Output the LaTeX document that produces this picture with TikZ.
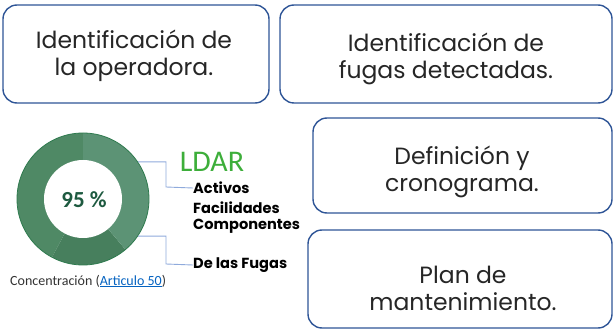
\documentclass[tikz,border=0pt]{standalone}
\usepackage{fontspec}
\newfontfamily\boxfont{Poppins}
\newfontfamily\calfont{Carlito}
\definecolor{boxblue}{HTML}{2F5597}
\definecolor{ringA}{HTML}{4F8965}
\definecolor{ringB}{HTML}{5C9375}
\definecolor{ringC}{HTML}{477F5D}
\definecolor{ringedge}{HTML}{2E7A4E}
\definecolor{pctgreen}{HTML}{1E5A40}
\definecolor{ldargreen}{HTML}{3DAE3A}
\definecolor{linkblue}{HTML}{0563C1}
\definecolor{connblue}{HTML}{8FAADC}
\tikzset{
  stepbox/.style={draw=boxblue, line width=1.4pt, rounded corners=14pt, fill=white},
  boxtext/.style={font=\boxfont\fontsize{23.5}{27}\selectfont, align=center, text=black!85, inner sep=0pt},
  labtext/.style={font=\boxfont\bfseries\fontsize{14.6}{16}\selectfont, anchor=west, inner sep=0pt},
  conn/.style={draw=connblue, line width=0.9pt},
}
\begin{document}
\begin{tikzpicture}[x=1pt,y=-1pt]
\useasboundingbox (0,0) rectangle (616,331);
\fill[white] (0,0) rectangle (616,331);
% boxes
\node[stepbox, minimum width=266pt, minimum height=98pt] (b1) at (136,54) {};
\node[stepbox, minimum width=332pt, minimum height=98pt] (b2) at (446,54) {};
\node[stepbox, minimum width=299pt, minimum height=95pt] (b3) at (462.5,165.5) {};
\node[stepbox, minimum width=304pt, minimum height=98pt] (b4) at (460,279) {};
\node[boxtext] (t1) at (134,56) {Identificación de\\la operadora.};
\node[boxtext] (t2) at (446,59) {Identificación de\\fugas detectadas.};
\node[boxtext] (t3) at (462,172) {Definición y\\cronograma.};
\node[boxtext] (t4) at (463,288) {Plan de\\mantenimiento.};
% donut
\coordinate (c) at (83,199);
\fill[ringA] (c) -- ++(-90:66) arc[start angle=-90, end angle=-242, radius=66] -- cycle;
\fill[ringC] (c) -- ++(-242:66) arc[start angle=-242, end angle=-310, radius=66] -- cycle;
\fill[ringB] (c) -- ++(-310:66) arc[start angle=-310, end angle=-450, radius=66] -- cycle;
\node[circle, draw=ringedge, line width=0.8pt, minimum size=132pt, inner sep=0pt] (ring) at (c) {};
\node[circle, fill=white, minimum size=78pt, inner sep=0pt] (hole) at (c) {};
\node[font=\calfont\bfseries\fontsize{23}{24}\selectfont, text=pctgreen, inner sep=0pt] (pct) at (84,200) {95 \%};
\node[font=\calfont\fontsize{14}{15}\selectfont, text=black!80, anchor=base west, inner sep=0pt] (conc) at (10,285) {Concentración (\textcolor{linkblue}{\underline{Articulo 50}})};
% labels
\node[font=\calfont\fontsize{30}{32}\selectfont, text=ldargreen, inner sep=0pt] (ldar) at (212,162) {LDAR};
\node[labtext] (act) at (193,188) {Activos};
\node[labtext] (fac) at (193,208) {Facilidades};
\node[labtext] (comp) at (193,226) {Componentes};
\node[labtext] (fug) at (193,265) {De las Fugas};
% connectors
\draw[conn] (ring.34) -- (166,162 |- ring.34) -- (166,187) -- (act.west);
\draw[conn] (ring.-34) -- (166,239 |- ring.-34) -- (166,264) -- (fug.west);
\end{tikzpicture}
\end{document}
